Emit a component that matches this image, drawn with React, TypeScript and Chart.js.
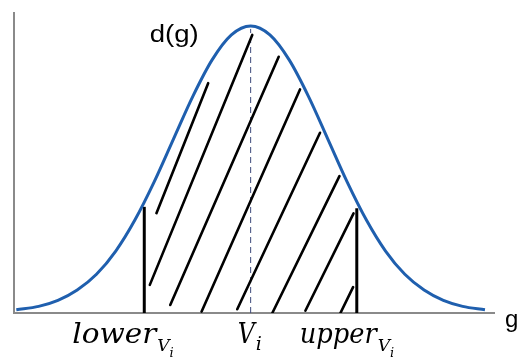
import React, { useEffect, useRef } from "react";
import { Chart, registerables } from "chart.js";

Chart.register(...registerables);

// Bell curve d(g) (x in units of spread around V_i, y relative to peak)
const curveX = [-3.04, -2.75, -2.5, -2.25, -2.0, -1.75, -1.5, -1.25, -1.0, -0.75, -0.5, -0.25, 0, 0.25, 0.5, 0.75, 1.0, 1.25, 1.5, 1.75, 2.0, 2.25, 2.5, 2.75, 3.04];
const curveY = [0.011, 0.023, 0.044, 0.08, 0.135, 0.216, 0.325, 0.458, 0.607, 0.755, 0.882, 0.969, 1.0, 0.969, 0.882, 0.755, 0.607, 0.458, 0.325, 0.216, 0.135, 0.08, 0.044, 0.023, 0.011];

// Hand-drawn hatch strokes (start / end points)
const hatchX1 = [-1.222, -1.308, -1.043, -0.636, -0.174, 0.283, 0.71, 1.165];
const hatchY1 = [0.348, 0.098, 0.028, 0.005, 0.013, 0.001, 0.008, 0.0];
const hatchX2 = [-0.551, 0.021, 0.364, 0.64, 0.9, 1.152, 1.335, 1.329];
const hatchY2 = [0.801, 0.969, 0.893, 0.779, 0.628, 0.477, 0.347, 0.09];

// Interval bounds and the mean
const boundValues = [-1.38, 1.377];
const boundTops = [0.37, 0.365];
const meanValue = 0;
const meanTop = 0.99;

// Axis labels
const labelValues = [-1.38, 0, 1.377];
const labelMain = ["lower", "V", "upper"];
const labelSub = ["V", "i", "V"];
const labelSubSub = ["i", "", "i"];
const yTitle = "d(g)";
const xTitle = "g";

const xMin = -3.07;
const xMax = 3.17;
const yMax = 1.049;

export default function App() {
  const ref = useRef<HTMLCanvasElement | null>(null);

  useEffect(() => {
    document.body.style.margin = "0";
    const canvas = ref.current;
    if (!canvas) return;

    const datasets: any[] = [];
    datasets.push({
      data: curveX.map((x, i) => ({ x, y: curveY[i] })),
      borderColor: "#1f5fae",
      borderWidth: 3,
      pointRadius: 0,
      cubicInterpolationMode: "monotone",
      fill: false,
      clip: 5,
    });
    hatchX1.forEach((_, i) => {
      datasets.push({
        data: [
          { x: hatchX1[i], y: hatchY1[i] },
          { x: hatchX2[i], y: hatchY2[i] },
        ],
        borderColor: "#000000",
        borderWidth: 2.6,
        pointRadius: 0,
        borderCapStyle: "round",
      });
    });
    boundValues.forEach((v, i) => {
      datasets.push({
        data: [
          { x: v, y: 0 },
          { x: v, y: boundTops[i] },
        ],
        borderColor: "#000000",
        borderWidth: 3,
        pointRadius: 0,
      });
    });
    datasets.push({
      data: [
        { x: meanValue, y: 0 },
        { x: meanValue, y: meanTop },
      ],
      borderColor: "#3d4a7c",
      borderWidth: 1,
      borderDash: [6, 4],
      pointRadius: 0,
    });

    const drawFitted = (ctx: CanvasRenderingContext2D, text: string, x: number, y: number, font: string, width: number) => {
      ctx.save();
      ctx.font = font;
      const w = ctx.measureText(text).width;
      const s = width > 0 && w > 0 ? width / w : 1;
      ctx.translate(x, y);
      ctx.scale(s, 1);
      ctx.fillText(text, 0, 0);
      ctx.restore();
      return width > 0 ? width : w;
    };

    const decor = {
      id: "decor",
      beforeDatasetsDraw(chart: any) {
        const { ctx, chartArea } = chart;
        ctx.save();
        ctx.strokeStyle = "#8a8a8a";
        ctx.lineWidth = 2;
        ctx.beginPath();
        ctx.moveTo(chartArea.left, chartArea.top);
        ctx.lineTo(chartArea.left, chartArea.bottom);
        ctx.lineTo(chartArea.right, chartArea.bottom);
        ctx.stroke();
        ctx.restore();
      },
      afterDraw(chart: any) {
        const { ctx, chartArea, scales } = chart;
        const xs = scales.x;
        const ys = scales.y;
        ctx.save();
        ctx.fillStyle = "#000000";
        ctx.textBaseline = "alphabetic";
        // y title near the peak
        drawFitted(ctx, yTitle, xs.getPixelForValue(meanValue) - 101, ys.getPixelForValue(1) + 16, '23px "Liberation Sans", Arial, sans-serif', 49);
        // x title at the axis end
        drawFitted(ctx, xTitle, chartArea.right + 10, chartArea.bottom + 14, '24px "Liberation Sans", Arial, sans-serif', 0);

        const offsets = [-72, -13, -57];
        const mainW = [84, 17, 77];
        const base = chartArea.bottom + 30;
        labelValues.forEach((v, i) => {
          let x = xs.getPixelForValue(v) + offsets[i];
          const w = drawFitted(ctx, labelMain[i], x, base, 'italic 27px "DejaVu Serif", serif', mainW[i]);
          x += w + 1;
          if (labelSubSub[i]) {
            const w2 = drawFitted(ctx, labelSub[i], x, base + 8, 'italic 17px "DejaVu Serif", serif', 0);
            x += w2 + 0;
            drawFitted(ctx, labelSubSub[i], x, base + 14, 'italic 13px "DejaVu Serif", serif', 0);
          } else {
            drawFitted(ctx, labelSub[i], x, base + 7, 'italic 19px "DejaVu Serif", serif', 0);
          }
        });
        ctx.restore();
      },
    };

    const chart = new Chart(canvas, {
      type: "line",
      data: { datasets },
      options: {
        animation: false,
        responsive: false,
        layout: { padding: { left: 14, top: 12, right: 22, bottom: 47 } },
        plugins: { legend: { display: false }, tooltip: { enabled: false } },
        scales: {
          x: { type: "linear", min: xMin, max: xMax, display: false },
          y: { type: "linear", min: 0, max: yMax, display: false },
        },
      },
      plugins: [decor],
    });
    return () => chart.destroy();
  }, []);

  return (
    <div style={{ width: 517, height: 360, background: "#ffffff" }}>
      <canvas ref={ref} width={517} height={360} style={{ display: "block" }} />
    </div>
  );
}
